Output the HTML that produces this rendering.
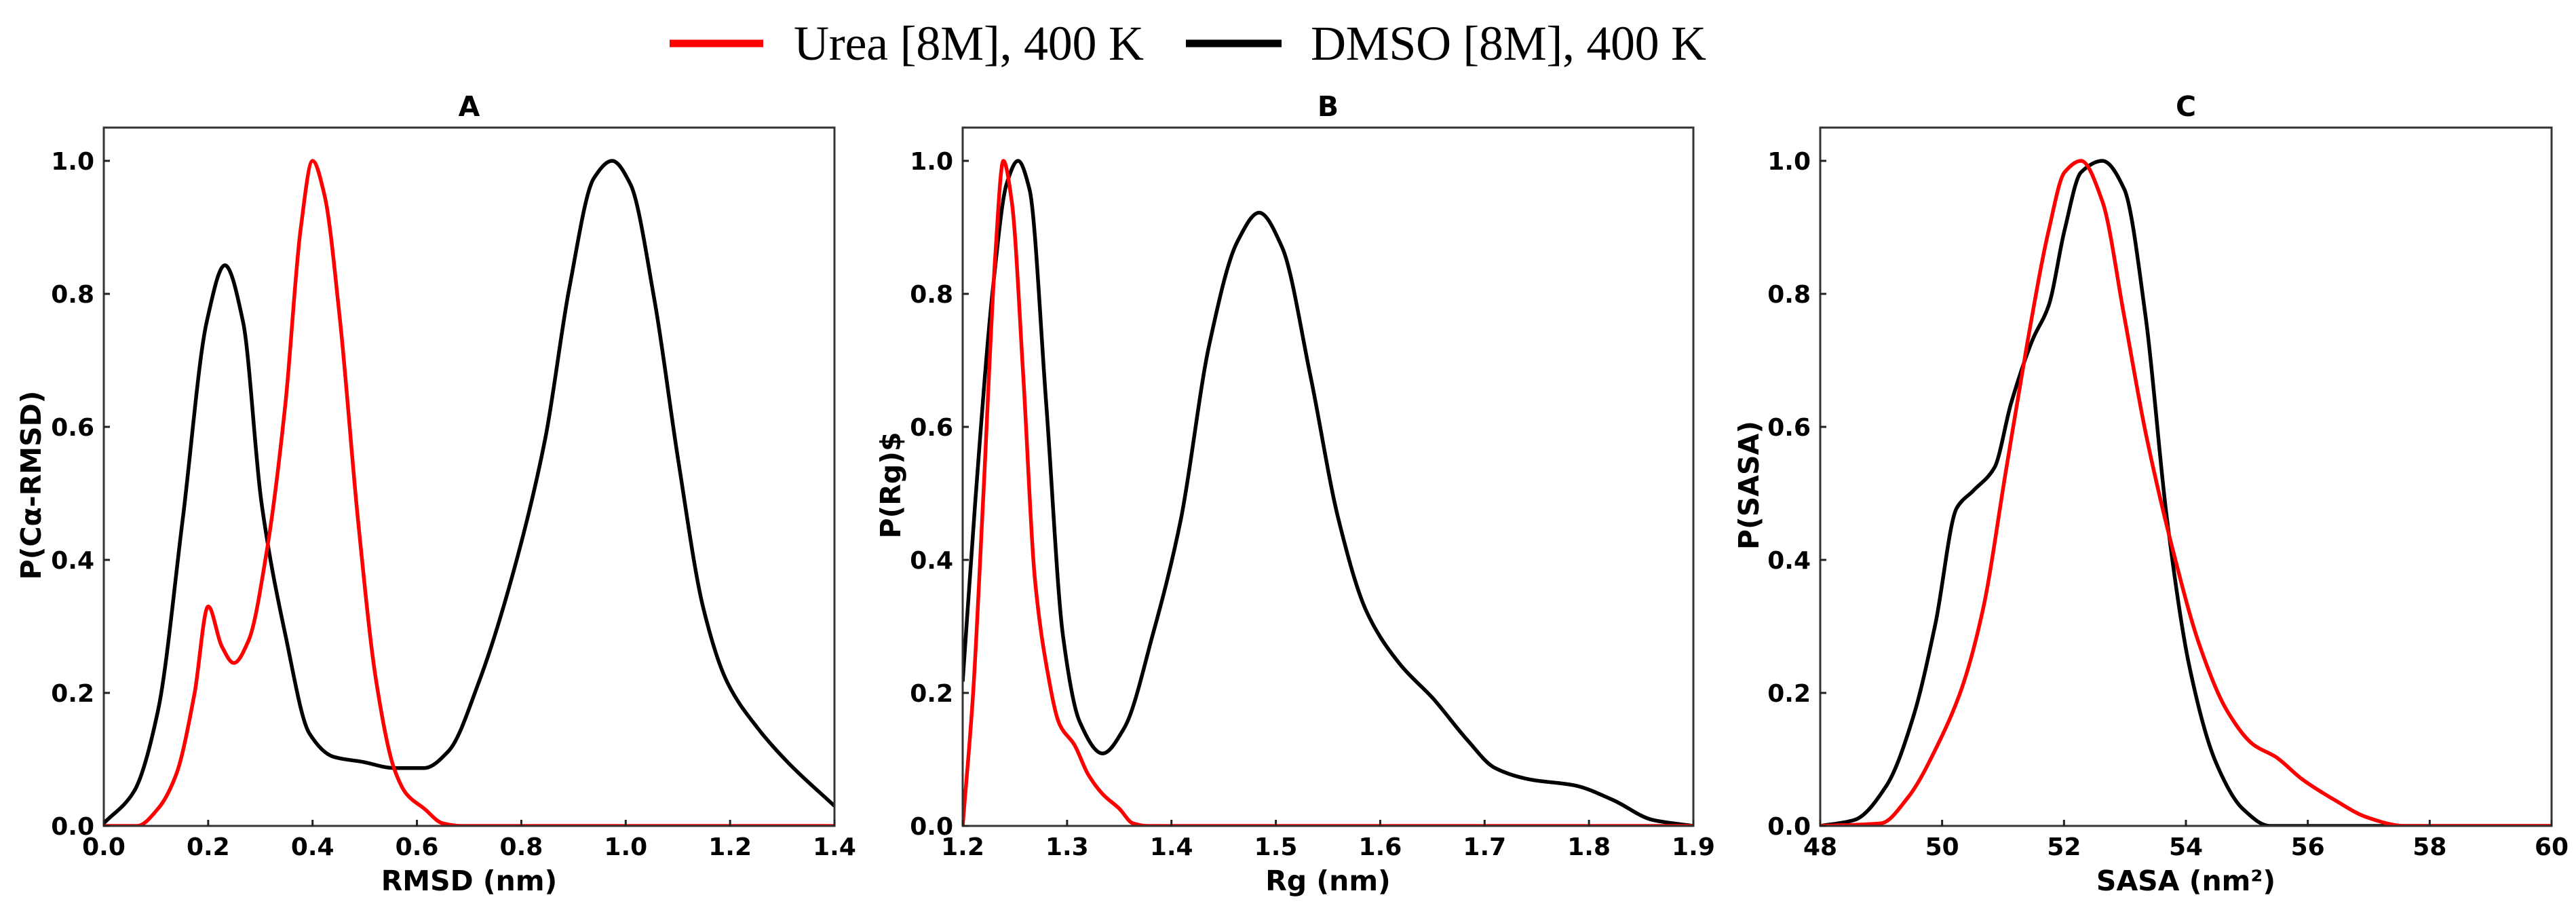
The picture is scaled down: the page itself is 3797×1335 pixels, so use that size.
<!DOCTYPE html>
<html><head><meta charset="utf-8"><style>
html,body{margin:0;padding:0;background:#fff}
svg{display:block}
.tk{font-family:"DejaVu Sans","Liberation Sans",sans-serif;font-weight:bold;font-size:36px;fill:#000}
.ttl{font-family:"DejaVu Sans","Liberation Sans",sans-serif;font-weight:bold;font-size:41px;fill:#000}
.lg{font-family:"Liberation Serif",serif;font-size:72px;fill:#000}
</style></head><body>
<svg id="fig" width="3797" height="1335" viewBox="0 0 3797 1335" xmlns="http://www.w3.org/2000/svg">
<g>
<line x1="987" y1="64" x2="1125" y2="64" stroke="#ff0000" stroke-width="11"/>
<text class="lg" x="1170" y="88" textLength="516">Urea [8M], 400 K</text>
<line x1="1748" y1="64" x2="1889" y2="64" stroke="#000" stroke-width="11"/>
<text class="lg" x="1932" y="88" textLength="583">DMSO [8M], 400 K</text>
</g>
</svg>
<script>
// Panel A: RMSD
const rmsdUreaX=[0,0.064,0.104,0.139,0.174,0.2,0.226,0.249,0.278,0.313,0.348,0.377,0.4,0.423,0.452,0.487,0.522,0.556,0.58,0.614,0.649,0.684,1.0,1.4];
const rmsdUreaY=[0,0,0.026,0.078,0.2,0.33,0.27,0.245,0.28,0.417,0.635,0.896,1.0,0.948,0.765,0.461,0.217,0.087,0.048,0.026,0.004,0,0,0];
const rmsdDmsoX=[0,0.058,0.104,0.151,0.197,0.232,0.267,0.302,0.348,0.394,0.44,0.498,0.556,0.614,0.661,0.719,0.788,0.846,0.892,0.939,0.974,1.009,1.055,1.101,1.148,1.194,1.252,1.31,1.4];
const rmsdDmsoY=[0.004,0.052,0.174,0.46,0.757,0.843,0.757,0.487,0.287,0.139,0.104,0.096,0.087,0.087,0.113,0.217,0.391,0.583,0.809,0.974,1.0,0.965,0.791,0.548,0.33,0.217,0.148,0.096,0.03];
const rmsdTicks=["0.0","0.2","0.4","0.6","0.8","1.0","1.2","1.4"];
// Panel B: Rg
const rgUreaX=[1.2,1.21,1.22,1.231,1.239,1.247,1.258,1.269,1.28,1.293,1.307,1.32,1.334,1.35,1.363,1.377,1.6,1.9];
const rgUreaY=[0,0.2,0.504,0.852,1.0,0.939,0.678,0.374,0.243,0.152,0.122,0.078,0.048,0.026,0.004,0,0,0];
const rgDmsoX=[1.2,1.212,1.229,1.242,1.253,1.264,1.28,1.296,1.312,1.334,1.355,1.382,1.409,1.436,1.463,1.484,1.506,1.533,1.56,1.587,1.619,1.651,1.683,1.71,1.743,1.786,1.823,1.861,1.9];
const rgDmsoY=[0.217,0.487,0.809,0.965,1.0,0.957,0.635,0.287,0.157,0.109,0.148,0.287,0.461,0.722,0.878,0.922,0.87,0.678,0.461,0.322,0.243,0.191,0.13,0.087,0.07,0.061,0.039,0.009,0];
const rgTicks=["1.2","1.3","1.4","1.5","1.6","1.7","1.8","1.9"];
// Panel C: SASA
const sasaUreaX=[48,49,49.44,49.97,50.33,50.68,51.04,51.39,51.75,52.01,52.28,52.63,52.99,53.34,53.78,54.23,54.67,55.11,55.47,55.91,56.44,56.97,57.59,60];
const sasaUreaY=[0,0.004,0.043,0.13,0.209,0.33,0.53,0.722,0.896,0.983,1.0,0.939,0.765,0.591,0.417,0.27,0.174,0.122,0.104,0.07,0.039,0.013,0,0];
const sasaDmsoX=[48,48.56,49.09,49.53,49.89,50.24,50.51,50.86,51.13,51.48,51.75,52.01,52.28,52.63,52.99,53.34,53.69,54.05,54.49,54.93,55.38,60];
const sasaDmsoY=[0,0.009,0.061,0.165,0.304,0.478,0.504,0.539,0.635,0.73,0.783,0.896,0.983,1.0,0.957,0.765,0.461,0.243,0.096,0.026,0,0];
const sasaTicks=["48","50","52","54","56","58","60"];
const yTicks=["0.0","0.2","0.4","0.6","0.8","1.0"];

const NS="http://www.w3.org/2000/svg";
const svg=document.getElementById('fig');
function mk(tag,attrs,parent){const e=document.createElementNS(NS,tag);for(const k in attrs)e.setAttribute(k,attrs[k]);(parent||svg).appendChild(e);return e;}
const TOP=188,BOT=1217;
function yS(v){return BOT-(v/1.05)*(BOT-TOP);}
// monotone cubic (Fritsch-Carlson) path in pixel space
function monotone(pts){
  const n=pts.length,dx=[],sl=[],m=new Array(n);
  for(let i=0;i<n-1;i++){dx[i]=pts[i+1][0]-pts[i][0];sl[i]=(pts[i+1][1]-pts[i][1])/dx[i];}
  m[0]=sl[0];m[n-1]=sl[n-2];
  for(let i=1;i<n-1;i++){
    if(sl[i-1]*sl[i]<=0)m[i]=0;
    else{const w1=2*dx[i]+dx[i-1],w2=dx[i]+2*dx[i-1];m[i]=(w1+w2)/(w1/sl[i-1]+w2/sl[i]);}
  }
  let d="M"+pts[0][0].toFixed(1)+","+pts[0][1].toFixed(1);
  for(let i=0;i<n-1;i++){
    const h=dx[i]/3;
    d+="C"+(pts[i][0]+h).toFixed(1)+","+(pts[i][1]+m[i]*h).toFixed(1)+" "+(pts[i+1][0]-h).toFixed(1)+","+(pts[i+1][1]-m[i+1]*h).toFixed(1)+" "+pts[i+1][0].toFixed(1)+","+pts[i+1][1].toFixed(1);
  }
  return d;
}
function panel(key,L,R,xmin,xmax,ticks,title,xlabel,ylabel,ylx,uX,uY,dX,dY){
  const g=mk('g',{});
  
  
  const xS=v=>L+(v-xmin)/(xmax-xmin)*(R-L);
  const clipId='clip'+key;
  const cp=mk('clipPath',{id:clipId},g);
  mk('rect',{x:L,y:TOP,width:R-L,height:BOT-TOP},cp);
  const series=[[dX,dY,'#000','dmso'],[uX,uY,'#ff0000','urea']];
  series.forEach(s=>{
    const pts=s[0].map((x,i)=>[xS(x),yS(s[1][i])]);
    const p=mk('path',{d:monotone(pts),fill:'none',stroke:s[2],'stroke-width':5.5,'stroke-linejoin':'round','clip-path':'url(#'+clipId+')'},g);
    
    
  });
  const fr=mk('rect',{x:L,y:TOP,width:R-L,height:BOT-TOP,fill:'none',stroke:'#333','stroke-width':3},g);
  
  
  ticks.forEach(t=>{
    const x=xS(parseFloat(t));
    mk('line',{x1:x,y1:BOT,x2:x,y2:BOT-9,stroke:'#222','stroke-width':3},g);
    const tx=mk('text',{x:x,y:1260,'text-anchor':'middle',class:'tk'},g);
    tx.textContent=t;
    
    
  });
  yTicks.forEach(t=>{
    const y=yS(parseFloat(t));
    mk('line',{x1:L,y1:y,x2:L+9,y2:y,stroke:'#222','stroke-width':3},g);
    const tx=mk('text',{x:L-14,y:y+13,'text-anchor':'end',class:'tk'},g);
    tx.textContent=t;
    
    
  });
  const tt=mk('text',{x:(L+R)/2,y:171,'text-anchor':'middle',class:'ttl'},g);
  tt.textContent=title;
  
  
  const xl=mk('text',{x:(L+R)/2,y:1312,'text-anchor':'middle',class:'ttl'},g);
  xl.textContent=xlabel;
  
  
  const yl=mk('text',{x:ylx,y:715,'text-anchor':'middle',class:'ttl',transform:'rotate(-90 '+ylx+' 715)'},g);
  yl.textContent=ylabel;
  
  
}
panel('a',153,1230,0,1.4,rmsdTicks,'A','RMSD (nm)','P(Cα-RMSD)',60,rmsdUreaX,rmsdUreaY,rmsdDmsoX,rmsdDmsoY);
panel('b',1419,2496,1.2,1.9,rgTicks,'B','Rg (nm)','P(Rg)$',1327,rgUreaX,rgUreaY,rgDmsoX,rgDmsoY);
panel('c',2683,3761,48,60,sasaTicks,'C','SASA (nm²)','P(SASA)',2592,sasaUreaX,sasaUreaY,sasaDmsoX,sasaDmsoY);
</script>
</body></html>
